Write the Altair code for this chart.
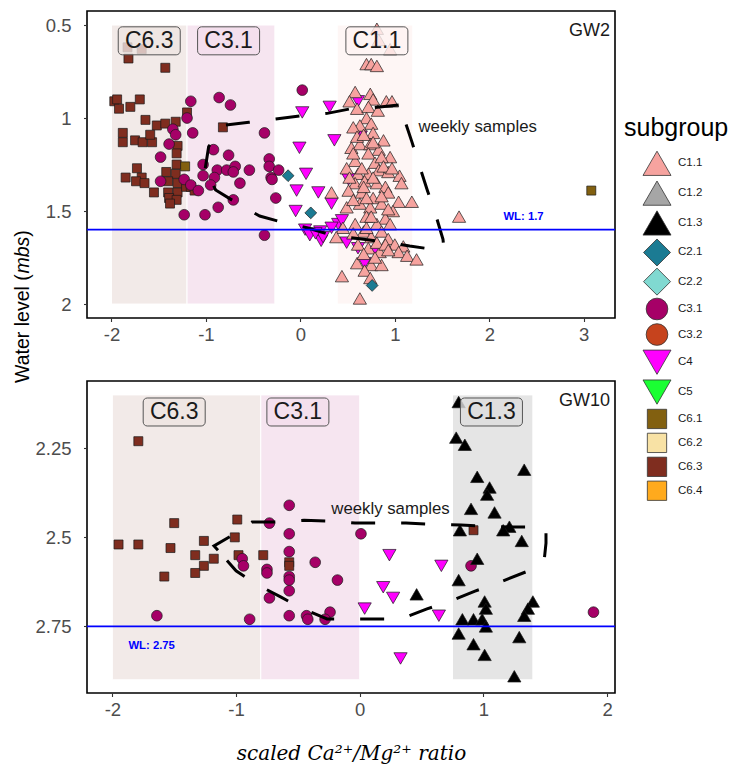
import math

import altair as alt
import pandas as pd

# ---------------------------------------------------------------- subgroups
subgroups = ["C1.1", "C1.2", "C1.3", "C2.1", "C2.2", "C3.1", "C3.2",
             "C4", "C5", "C6.1", "C6.2", "C6.3", "C6.4"]
subgroup_fill = ["#F6A39F", "#A6A6A6", "#000000", "#1B7B93", "#80D9D1",
                 "#A60067", "#C6431D", "#FF00FF", "#1AFF33", "#826010",
                 "#F8E2A5", "#7F2D1F", "#FFAA1D"]
subgroup_shape = ["triangle-up", "triangle-up", "triangle-up", "diamond", "diamond",
                  "circle", "circle", "triangle-down", "triangle-down",
                  "square", "square", "square", "square"]

# marker areas (px^2): in the panels and in the key
panel_area = {"triangle-up": 175, "triangle-down": 175, "diamond": 140,
              "circle": 115, "square": 81}
key_area = {"triangle-up": 784, "triangle-down": 784, "diamond": 729,
            "circle": 470, "square": 373}

# ---------------------------------------------------------------- GW2 samples
gw2_c63 = [(-1.82, 0.68), (-1.43, 0.73), (-1.83, 0.62), (-1.68, 0.63), (-1.97, 0.91),
           (-1.94, 0.90), (-1.92, 0.95), (-1.80, 0.94), (-1.70, 0.90), (-1.64, 1.01),
           (-1.52, 1.04), (-1.43, 1.03), (-1.32, 1.02), (-1.20, 0.97), (-1.88, 1.08),
           (-1.88, 1.13), (-1.75, 1.12), (-1.67, 1.13), (-1.57, 1.13), (-1.59, 1.09),
           (-1.30, 1.15), (-1.31, 1.19), (-1.73, 1.27), (-1.85, 1.32), (-1.68, 1.32),
           (-1.74, 1.34), (-1.65, 1.35), (-1.55, 1.40), (-1.42, 1.29), (-1.32, 1.30),
           (-1.31, 1.25), (-1.40, 1.34), (-1.30, 1.35), (-1.40, 1.40), (-1.30, 1.40),
           (-1.39, 1.43), (-1.31, 1.44), (-1.38, 1.46), (-1.21, 1.37), (-1.16, 1.37),
           (-1.12, 1.39), (-0.82, 1.05)]
gw2_c61 = [(-1.22, 1.26), (3.08, 1.39)]
gw2_c31 = [(-1.16, 0.91), (-0.86, 0.89), (-0.74, 0.93), (-1.20, 1.00), (-1.14, 1.08),
           (-1.35, 1.06), (-1.32, 1.09), (-1.39, 1.14), (-1.48, 1.21), (-0.92, 1.17),
           (-0.76, 1.20), (-0.38, 1.08), (0.02, 0.85), (-1.03, 1.25), (-0.88, 1.28),
           (-0.78, 1.28), (-0.69, 1.26), (-0.71, 1.29), (-0.54, 1.28), (-1.03, 1.31),
           (-0.91, 1.32), (-0.95, 1.36), (-0.64, 1.35), (-1.48, 1.34), (-1.23, 1.33),
           (-1.16, 1.36), (-1.08, 1.39), (-1.23, 1.52), (-1.01, 1.52), (-0.87, 1.48),
           (-0.71, 1.44), (-0.33, 1.22), (-0.33, 1.26), (-0.23, 1.28), (-0.31, 1.32),
           (-0.30, 1.33), (-0.26, 1.43), (-0.38, 1.63)]
gw2_c4 = [(0.02, 0.97), (0.31, 0.94), (-0.01, 1.16), (0.36, 1.12), (0.64, 1.10),
          (0.06, 1.30), (-0.04, 1.39), (0.19, 1.40), (0.33, 1.46), (-0.05, 1.50),
          (0.05, 1.60), (0.21, 1.61), (0.22, 1.66), (0.40, 1.57), (0.49, 1.67),
          (0.61, 1.70), (0.80, 1.72), (0.68, 1.78), (0.44, 1.55), (0.33, 1.59),
          (0.61, 0.91), (0.51, 1.33), (0.24, 1.64), (0.10, 1.63), (0.16, 1.62)]
gw2_c11 = [(0.81, 0.52), (0.83, 0.58), (0.95, 0.63), (0.70, 0.71), (0.75, 0.71),
           (0.81, 0.72), (0.58, 0.86), (0.74, 0.87), (0.77, 0.90), (0.52, 0.91),
           (0.60, 0.95), (0.72, 0.94), (0.82, 0.96), (0.91, 0.91), (0.97, 0.91),
           (0.70, 1.00), (0.75, 1.03), (0.63, 1.04), (0.77, 1.08), (0.88, 1.12),
           (0.54, 1.16), (0.63, 1.14), (0.74, 1.14), (0.83, 1.17), (0.72, 1.19),
           (0.95, 1.21), (0.58, 1.23), (0.79, 1.24), (0.86, 1.21), (0.49, 1.27),
           (0.61, 1.30), (0.72, 1.30), (0.83, 1.28), (0.93, 1.29), (1.05, 1.31),
           (1.07, 1.35), (0.58, 1.35), (0.68, 1.34), (0.81, 1.35), (0.90, 1.37),
           (0.33, 1.40), (0.51, 1.39), (0.65, 1.40), (0.77, 1.43), (0.93, 1.40),
           (1.04, 1.45), (1.18, 1.45), (0.63, 1.46), (0.86, 1.46), (0.49, 1.48),
           (0.74, 1.48), (0.98, 1.50), (1.68, 1.53), (0.70, 1.53), (0.90, 1.54),
           (0.58, 1.57), (0.81, 1.57), (0.45, 1.59), (0.67, 1.61), (0.86, 1.61),
           (0.38, 1.64), (0.75, 1.64), (0.93, 1.65), (1.00, 1.68), (1.09, 1.69),
           (0.61, 1.68), (0.72, 1.70), (0.84, 1.72), (1.04, 1.72), (1.13, 1.74),
           (1.23, 1.76), (0.60, 1.78), (0.75, 1.79), (0.86, 1.79), (0.68, 1.82),
           (0.44, 1.85), (0.74, 1.86), (0.63, 1.97), (0.56, 1.05), (0.60, 1.10),
           (0.67, 1.09), (0.77, 1.13), (0.56, 1.19), (0.65, 1.27), (0.88, 1.26),
           (0.97, 1.27), (0.52, 1.32), (0.77, 1.32), (0.67, 1.37), (0.86, 1.42),
           (0.70, 1.43), (0.56, 1.44), (0.93, 1.49), (0.75, 1.53), (0.70, 1.59),
           (0.95, 1.57), (0.56, 1.62), (0.81, 1.67), (0.90, 1.68), (0.67, 1.73),
           (0.79, 1.75), (0.93, 1.71)]
gw2_c21 = [(-0.13, 1.31), (0.11, 1.51), (0.76, 1.90)]

# weekly-sample trajectory (closed loop)
gw2_loop_x = [-1.007, -0.971, -0.801, -0.544, -0.261, -0.007, 0.285, 0.536, 0.769,
              1.068, 1.097, 1.104, 1.180, 1.269, 1.343, 1.439, 1.510, 1.520, 1.404,
              1.157, 0.927, 0.628, 0.324, 0.080, -0.184, -0.431, -0.679, -0.897, -1.007]
gw2_loop_y = [1.270, 1.154, 1.038, 1.023, 1.005, 0.989, 0.975, 0.950, 0.945,
              0.928, 0.925, 1.011, 1.127, 1.270, 1.387, 1.531, 1.652, 1.704, 1.706,
              1.688, 1.668, 1.649, 1.629, 1.591, 1.561, 1.527, 1.455, 1.387, 1.270]

gw2_band_names = ["C6.3", "C3.1", "C1.1"]
gw2_band_lo = [-2.0, -1.2, 0.39]
gw2_band_hi = [-1.2, -0.27, 1.19]
gw2_band_top, gw2_band_bottom = 0.5, 2.0
gw2_label_x = [-1.60, -0.76, 0.81]
gw2_label_y = 0.585
gw2_wl = 1.6
gw2_wl_text, gw2_wl_xy = "WL: 1.7", (2.15, 1.534)
gw2_weekly_xy = (1.25, 1.048)

# ---------------------------------------------------------------- GW10 samples
gw10_c63 = [(-1.79, 2.23), (-1.50, 2.46), (-0.99, 2.45), (-1.95, 2.52), (-1.79, 2.52),
            (-1.53, 2.53), (-1.26, 2.51), (-1.01, 2.50), (-1.33, 2.55), (-1.18, 2.56),
            (-1.26, 2.58), (-1.33, 2.60), (-1.58, 2.61), (-0.98, 2.55), (-0.78, 2.55),
            (-0.57, 2.57), (-0.57, 2.58), (0.92, 2.48)]
gw10_c31 = [(-0.57, 2.41), (-0.73, 2.46), (-0.57, 2.49), (-0.57, 2.54), (-0.95, 2.56),
            (-0.94, 2.58), (-0.75, 2.59), (-0.75, 2.60), (-0.57, 2.61), (-0.57, 2.62),
            (-0.57, 2.65), (-0.36, 2.57), (-0.18, 2.62), (-0.73, 2.67), (-1.64, 2.72),
            (-0.89, 2.73), (-0.57, 2.72), (-0.43, 2.72), (-0.42, 2.73), (-0.24, 2.71),
            (-0.28, 2.73), (0.01, 2.49), (0.90, 2.58), (1.89, 2.71)]
gw10_c4 = [(0.24, 2.55), (0.66, 2.58), (0.19, 2.64), (0.27, 2.67), (0.04, 2.70),
           (0.64, 2.72), (0.33, 2.84)]
gw10_c13 = [(0.80, 2.12), (0.78, 2.22), (0.85, 2.24), (1.33, 2.31), (0.95, 2.33),
            (1.05, 2.36), (1.03, 2.38), (0.90, 2.42), (1.09, 2.43), (0.81, 2.48),
            (1.21, 2.47), (1.16, 2.48), (1.31, 2.51), (0.95, 2.56), (0.80, 2.62),
            (0.46, 2.66), (1.01, 2.68), (1.02, 2.70), (1.40, 2.68), (1.36, 2.70),
            (1.33, 2.72), (0.83, 2.73), (0.92, 2.73), (0.99, 2.73), (1.02, 2.75),
            (0.80, 2.77), (0.92, 2.80), (1.29, 2.78), (1.01, 2.83), (1.25, 2.89)]

gw10_loop_x = [-1.146, -1.178, -1.040, -0.871, -0.677, -0.450, -0.256, -0.038, 0.148,
               0.374, 0.568, 0.819, 0.980, 1.215, 1.401, 1.506, 1.506, 1.490, 1.401,
               1.118, 0.932, 0.730, 0.544, 0.334, 0.148, -0.070, -0.264, -0.475,
               -0.636, -0.838, -1.000, -1.146]
gw10_loop_y = [2.536, 2.524, 2.496, 2.457, 2.457, 2.452, 2.454, 2.460, 2.460,
               2.460, 2.463, 2.465, 2.468, 2.471, 2.471, 2.474, 2.516, 2.569, 2.589,
               2.628, 2.651, 2.679, 2.701, 2.729, 2.729, 2.729, 2.729, 2.698,
               2.668, 2.631, 2.594, 2.536]

gw10_band_names = ["C6.3", "C3.1", "C1.3"]
gw10_band_lo = [-2.0, -0.8, 0.75]
gw10_band_hi = [-0.8, 0.0, 1.4]
gw10_band_top, gw10_band_bottom = 2.1, 2.9
gw10_label_x = [-1.50, -0.50, 1.065]
gw10_label_y = 2.148
gw10_wl = 2.75
gw10_wl_text, gw10_wl_xy = "WL: 2.75", (-1.87, 2.804)
gw10_weekly_xy = (-0.23, 2.419)

PLOT_W = 528
shape_of = dict(zip(subgroups, subgroup_shape))


def points_frame(groups):
    rows = []
    for name, pts in groups:
        for x, y in pts:
            rows.append({"subgroup": name, "x": x, "y": y,
                         "area": panel_area[shape_of[name]]})
    return pd.DataFrame(rows)


fill_scale = alt.Scale(domain=subgroups, range=subgroup_fill)
shape_scale = alt.Scale(domain=subgroups, range=subgroup_shape)


def panel(name, pts, loop_x, loop_y, band_names, band_lo, band_hi, band_top,
          band_bottom, label_x, label_y, wl, wl_text, wl_xy, weekly_xy,
          xdom, ydom, xticks, yticks, height, x_title=None, y_title=False):
    xs = alt.Scale(domain=xdom, nice=False, zero=False)
    ys = alt.Scale(domain=ydom, reverse=True, nice=False, zero=False)
    if x_title:
        xax = alt.Axis(values=xticks, labelExpr="'' + datum.value", title=x_title,
                       labelPadding=4, titleFont="DejaVu Serif", titleFontStyle="italic",
                       titleFontWeight="normal", titleFontSize=20, titleColor="black",
                       titlePadding=24)
    else:
        xax = alt.Axis(values=xticks, labelExpr="'' + datum.value", title=None,
                       labelPadding=4)
    yax = alt.Axis(values=yticks, labelExpr="'' + datum.value", title=None,
                   labelPadding=12.5)

    def X(f):
        return alt.X(f, type="quantitative", scale=xs, axis=xax)

    def Y(f):
        return alt.Y(f, type="quantitative", scale=ys, axis=yax)

    fill = alt.Fill("subgroup:N", scale=fill_scale, legend=None)

    band_df = pd.DataFrame({"subgroup": band_names, "lo": band_lo, "hi": band_hi,
                            "top": band_top, "bottom": band_bottom})
    label_df = pd.DataFrame({"subgroup": band_names, "x": label_x, "y": label_y})
    loop_df = pd.DataFrame({"i": range(len(loop_x)), "x": loop_x, "y": loop_y})

    bands = alt.Chart(band_df).mark_rect(fillOpacity=0.1, stroke="white", strokeWidth=1).encode(
        x=X("lo"), x2="hi", y=Y("top"), y2="bottom", fill=fill)
    points = alt.Chart(pts).mark_point(filled=True, opacity=1, stroke="#1a1a1a",
                                       strokeWidth=0.7).encode(
        x=X("x"), y=Y("y"), fill=fill,
        shape=alt.Shape("subgroup:N", scale=shape_scale, legend=None),
        size=alt.Size("area:Q", scale=None))
    loop = alt.Chart(loop_df).mark_line(color="black", strokeWidth=3, strokeDash=[24, 26],
                                        strokeCap="butt").encode(
        x=X("x"), y=Y("y"), order="i:Q")
    wl_rule = alt.Chart(pd.DataFrame({"wl": [wl]})).mark_rule(
        color="#0000FF", strokeWidth=1.8).encode(y=Y("wl"))
    box_under = alt.Chart(label_df).mark_rect(width=62, height=28, cornerRadius=4,
                                              fill="white", opacity=0.78).encode(
        x=X("x"), y=Y("y"))
    box = alt.Chart(label_df).mark_rect(width=62, height=28, cornerRadius=4, fillOpacity=0.1,
                                        stroke="#555555", strokeWidth=1).encode(
        x=X("x"), y=Y("y"), fill=fill)
    box_text = alt.Chart(label_df).mark_text(fontSize=23, color="#1a1a1a").encode(
        x=X("x"), y=Y("y"), text="subgroup:N")
    weekly = alt.Chart(pd.DataFrame({"x": [weekly_xy[0]], "y": [weekly_xy[1]],
                                     "t": ["weekly samples"]})).mark_text(
        align="left", fontSize=16.8, color="#1a1a1a").encode(
        x=X("x"), y=Y("y"), text="t:N")
    wl_lab = alt.Chart(pd.DataFrame({"x": [wl_xy[0]], "y": [wl_xy[1]],
                                     "t": [wl_text]})).mark_text(
        align="left", fontSize=11.3, fontWeight="bold", color="#0000FF").encode(
        x=X("x"), y=Y("y"), text="t:N")
    gw = alt.Chart(pd.DataFrame({"t": [name]})).mark_text(
        align="right", fontSize=18, color="#1a1a1a").encode(
        x=alt.value(PLOT_W - 5), y=alt.value(20), text="t:N")

    layers = [bands, points, loop, wl_rule, box_under, box, box_text, weekly, wl_lab, gw]
    if y_title:
        # "Water level (mbs)" reading bottom-to-top, with the unit in italics
        pieces = [("Water level (", "normal", 372), ("mbs", "italic", 262.6),
                  (")", "normal", 225.8)]
        for txt, style, ypix in pieces:
            layers.append(alt.Chart(pd.DataFrame({"t": [txt]})).mark_text(
                align="left", baseline="middle", angle=270, fontSize=19.5,
                fontStyle=style, color="black").encode(
                x=alt.value(-64), y=alt.value(ypix), text="t:N"))
    return alt.layer(*layers).properties(width=PLOT_W, height=height)


top = panel("GW2", points_frame([("C6.3", gw2_c63), ("C6.1", gw2_c61), ("C3.1", gw2_c31),
                                 ("C4", gw2_c4), ("C1.1", gw2_c11), ("C2.1", gw2_c21)]),
            gw2_loop_x, gw2_loop_y, gw2_band_names, gw2_band_lo, gw2_band_hi,
            gw2_band_top, gw2_band_bottom, gw2_label_x, gw2_label_y,
            gw2_wl, gw2_wl_text, gw2_wl_xy, gw2_weekly_xy,
            xdom=[-2.259, 3.331], ydom=[0.4247, 2.075],
            xticks=[-2, -1, 0, 1, 2, 3], yticks=[0.5, 1, 1.5, 2], height=307,
            y_title=True)

bottom = panel("GW10", points_frame([("C6.3", gw10_c63), ("C3.1", gw10_c31),
                                     ("C4", gw10_c4), ("C1.3", gw10_c13)]),
               gw10_loop_x, gw10_loop_y, gw10_band_names, gw10_band_lo, gw10_band_hi,
               gw10_band_top, gw10_band_bottom, gw10_label_x, gw10_label_y,
               gw10_wl, gw10_wl_text, gw10_wl_xy, gw10_weekly_xy,
               xdom=[-2.205, 2.064], ydom=[2.061, 2.937],
               xticks=[-2, -1, 0, 1, 2], yticks=[2.25, 2.5, 2.75], height=312,
               x_title="scaled  Ca²⁺/Mg²⁺ ratio")

# ---------------------------------------------------------------- key
key_sizes = [key_area[s] for s in subgroup_shape]
row_h = [0.68 * math.sqrt(a) + 10.8 for a in key_sizes]
key_y = [152.3]
for i in range(1, len(subgroups)):
    key_y.append(key_y[-1] + (row_h[i - 1] + row_h[i]) / 2)
key_df = pd.DataFrame({"subgroup": subgroups, "area": key_sizes, "ypos": key_y})

key_pts = alt.Chart(key_df).mark_point(filled=True, opacity=1, stroke="#333333",
                                       strokeWidth=0.8).encode(
    x=alt.value(34), y=alt.Y("ypos:Q", scale=None, axis=None),
    fill=alt.Fill("subgroup:N", scale=fill_scale, legend=None),
    shape=alt.Shape("subgroup:N", scale=shape_scale, legend=None),
    size=alt.Size("area:Q", scale=None))
key_txt = alt.Chart(key_df).mark_text(align="left", fontSize=11.5, color="#1a1a1a").encode(
    x=alt.value(55), y=alt.Y("ypos:Q", scale=None, axis=None), text="subgroup:N")
key_title = alt.Chart(pd.DataFrame({"t": ["subgroup"]})).mark_text(
    align="left", fontSize=25, color="black").encode(
    x=alt.value(1), y=alt.value(117), text="t:N")
key = alt.layer(key_pts, key_txt, key_title).properties(
    width=100, height=500, view=alt.ViewBackground(strokeOpacity=0))

chart = alt.hconcat(
    alt.vconcat(top, bottom, spacing=63, bounds="flush"), key, spacing=6
).properties(
    padding={"left": 12, "top": 10, "right": 0, "bottom": 0}
).configure(
    font="Liberation Sans"
).configure_view(
    stroke="black", strokeWidth=1.6
).configure_axis(
    domain=False, grid=False, tickColor="#333333", tickSize=3.5, tickWidth=1.1,
    labelColor="#4D4D4D", labelFontSize=18.5, labelFont="Liberation Sans"
)

chart.save("out.html", embed_options={"renderer": "svg", "actions": False})
